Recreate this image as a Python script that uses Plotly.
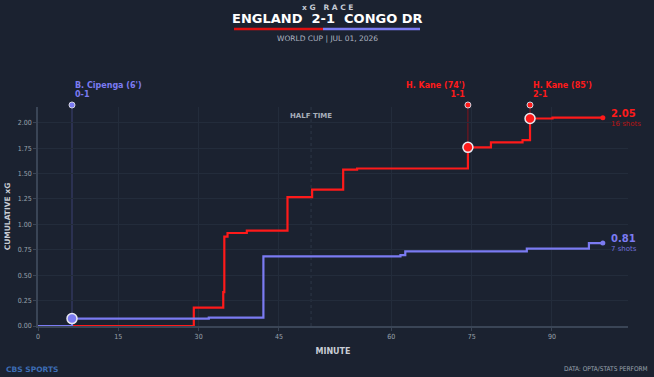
import plotly.graph_objects as go

# ---------------- data ----------------
FIRST_HALF_STOPPAGE = 6  # minutes added to first half (elapsed time axis)
TICK_MINUTES = [0, 15, 30, 45, 60, 75, 90]
TICK_LABELS = ["0", "15", "30", "45", "60", "75", "90"]

eng_shot_t = [29.1, 34.6, 34.8, 35.4, 39.0, 46.6, 51.2, 57.0, 59.6, 80.3, 84.6, 90.5, 91.9, 96.1]
eng_cum_xg = [0.18, 0.334, 0.88, 0.915, 0.938, 1.268, 1.341, 1.538, 1.55, 1.758, 1.806, 1.829, 2.042, 2.05]
con_shot_t = [6.35, 31.9, 42.1, 67.7, 68.6, 91.3, 102.9]
con_cum_xg = [0.073, 0.083, 0.685, 0.698, 0.734, 0.761, 0.816]
END_T = 105.5

eng_total, eng_shots = "2.05", "16 shots"
con_total, con_shots = "0.81", "7 shots"

goal_team = ["con", "eng", "eng"]
goal_t = [6.35, 80.3, 91.9]
goal_xg = [0.073, 1.758, 2.042]
goal_scorer = ["B. Cipenga (6')", "H. Kane (74')", "H. Kane (85')"]
goal_score = ["0-1", "1-1", "2-1"]

RED = "#ff1a1a"
BLUE = "#7b7bf2"
BG = "#1b2230"
W, H = 654, 377
L, R, T, B = 38, 26, 107, 51
Y_MAX = 2.155


def elapsed_tick(m):
    return m if m <= 45 else m + FIRST_HALF_STOPPAGE


def px(xp):
    return (xp - L) / (W - L - R)


def py(yp):
    return (H - B - yp) / (H - T - B)


def steps(t, v):
    xs = [0] + list(t) + [END_T]
    ys = [0] + list(v) + [v[-1]]
    return xs, ys


fig = go.Figure()

TOP_PY = py(105)  # paper y of goal flag markers (just above the plot)

# goal connector lines (from goal point up to the top flag)
for team, t, g in zip(goal_team, goal_t, goal_xg):
    lc = "rgba(123,123,242,0.35)" if team == "con" else "rgba(150,15,25,0.85)"
    fig.add_shape(type="line", xref="x", yref="y", x0=t, x1=t, y0=g, y1=Y_MAX,
                  line=dict(color=lc, width=1), layer="below")

ex, ey = steps(eng_shot_t, eng_cum_xg)
cx, cy = steps(con_shot_t, con_cum_xg)
fig.add_trace(go.Scatter(x=ex, y=ey, mode="lines", line=dict(color=RED, width=2.2, shape="hv"),
                         showlegend=False))
fig.add_trace(go.Scatter(x=cx, y=cy, mode="lines", line=dict(color=BLUE, width=2.2, shape="hv"),
                         showlegend=False))
# end dots
fig.add_trace(go.Scatter(x=[END_T, END_T], y=[eng_cum_xg[-1], con_cum_xg[-1]], mode="markers",
                         marker=dict(color=[RED, BLUE], size=5), showlegend=False))

for team, t, g, who, sc in zip(goal_team, goal_t, goal_xg, goal_scorer, goal_score):
    col = BLUE if team == "con" else RED
    fig.add_trace(go.Scatter(x=[t], y=[g], mode="markers", cliponaxis=False,
                             marker=dict(color=col, size=10, line=dict(color="#e8e8f0", width=1.5)),
                             showlegend=False))
    fig.add_shape(type="circle", xref="x", yref="paper", xsizemode="pixel", ysizemode="pixel",
                  xanchor=t, yanchor=TOP_PY, x0=-3, x1=3, y0=-3, y1=3,
                  fillcolor=col, line=dict(color="#d4d4e0", width=1))
    left = team == "con" or t > 85
    fig.add_annotation(x=t, y=py(90), xref="x", yref="paper",
                       text=f"<span style='font-size:8px'><b>{who}</b></span><br>"
                            f"<span style='font-size:8px'><b>{sc}</b></span>",
                       xanchor="left" if left else "right", yanchor="middle",
                       align="left" if left else "right",
                       xshift=1 if left else -1, showarrow=False,
                       font=dict(family="DejaVu Sans", size=6.8, color=col))

# end labels
for tot, sh, v, col, scol in [(eng_total, eng_shots, eng_cum_xg[-1], RED, "#b81414"),
                              (con_total, con_shots, con_cum_xg[-1], BLUE, "#7070d8")]:
    fig.add_annotation(x=END_T, y=v, xref="x", yref="y",
                       text=f"<span style='font-size:10px'><b>{tot}</b></span><br>"
                            f"<span style='color:{scol}'>{sh}</span>",
                       xanchor="left", yanchor="middle", align="left", xshift=6, yshift=0,
                       showarrow=False, font=dict(family="DejaVu Sans", size=7, color=col))

# half time
HT = 45 + FIRST_HALF_STOPPAGE
fig.add_shape(type="line", x0=HT, x1=HT, y0=0, y1=1, yref="paper", xref="x",
              line=dict(color="#2e3848", width=1, dash="dot"), layer="below")
fig.add_annotation(x=HT, y=py(116), xref="x", yref="paper", text="HALF TIME", showarrow=False,
                   yanchor="middle", xanchor="center",
                   font=dict(family="DejaVu Sans", size=7, color="#a8afba", weight="bold"))

# title block
fig.add_annotation(x=px(327), y=py(7), xref="paper", yref="paper", text="x G   R A C E", showarrow=False,
                   xanchor="center", yanchor="middle",
                   font=dict(family="DejaVu Sans", size=7.5, color="#c4cad4", weight="bold"))
fig.add_annotation(x=px(327), y=py(18.5), xref="paper", yref="paper", text="ENGLAND  2-1  CONGO DR",
                   xanchor="center", yanchor="middle",
                   showarrow=False, font=dict(family="DejaVu Sans", size=13, color="#ffffff", weight="bold"))
fig.add_shape(type="line", xref="paper", yref="paper", x0=px(234), x1=px(323), y0=py(29), y1=py(29),
              line=dict(color="#e01010", width=2.5))
fig.add_shape(type="line", xref="paper", yref="paper", x0=px(323), x1=px(420), y0=py(29), y1=py(29),
              line=dict(color=BLUE, width=2.5))
fig.add_annotation(x=px(327), y=py(38), xref="paper", yref="paper", text="WORLD CUP | JUL 01, 2026",
                   xanchor="center", yanchor="middle",
                   showarrow=False, font=dict(family="DejaVu Sans", size=7.5, color="#aeb4c0"))

# footer
fig.add_annotation(x=px(4), y=py(369), xref="paper", yref="paper", text="CBS SPORTS", xanchor="left",
                   yanchor="middle",
                   showarrow=False, font=dict(family="DejaVu Sans", size=7.5, color="#3d6db5", weight="bold"))
fig.add_annotation(x=px(650), y=py(369), xref="paper", yref="paper", text="DATA: OPTA/STATS PERFORM",
                   xanchor="right", yanchor="middle", showarrow=False,
                   font=dict(family="DejaVu Sans Condensed", size=6.5, color="#9aa2ae"))

fig.update_layout(
    width=W, height=H, margin=dict(l=L, r=R, t=T, b=B),
    paper_bgcolor=BG, plot_bgcolor=BG,
    xaxis=dict(range=[0, 110.2], tickvals=[elapsed_tick(m) for m in TICK_MINUTES], ticktext=TICK_LABELS,
               automargin=False,
               showgrid=True, gridcolor="#232c3b", gridwidth=1, zeroline=False,
               showline=True, linecolor="#3a4556", linewidth=1.5, ticks="outside", ticklen=3,
               tickcolor="#3a4556", tickfont=dict(family="DejaVu Sans Condensed", size=7, color="#9aa2ae"),
               title=dict(text="MINUTE", standoff=8,
                          font=dict(family="DejaVu Sans", size=8, color="#c8cdd5", weight="bold"))),
    yaxis=dict(range=[0, Y_MAX], tickvals=[0, 0.25, 0.5, 0.75, 1.0, 1.25, 1.5, 1.75, 2.0],
               automargin=False,
               tickformat=".2f", showgrid=True, gridcolor="#232c3b", gridwidth=1, zeroline=False,
               showline=True, linecolor="#3a4556", linewidth=1.5, ticks="outside", ticklen=3,
               tickcolor="#3a4556", tickfont=dict(family="DejaVu Sans Condensed", size=7, color="#9aa2ae"),
               title=dict(text="CUMULATIVE xG", standoff=6,
                          font=dict(family="DejaVu Sans", size=7.5, color="#c8cdd5", weight="bold"))),
    showlegend=False,
)

fig.write_html("out.html")
